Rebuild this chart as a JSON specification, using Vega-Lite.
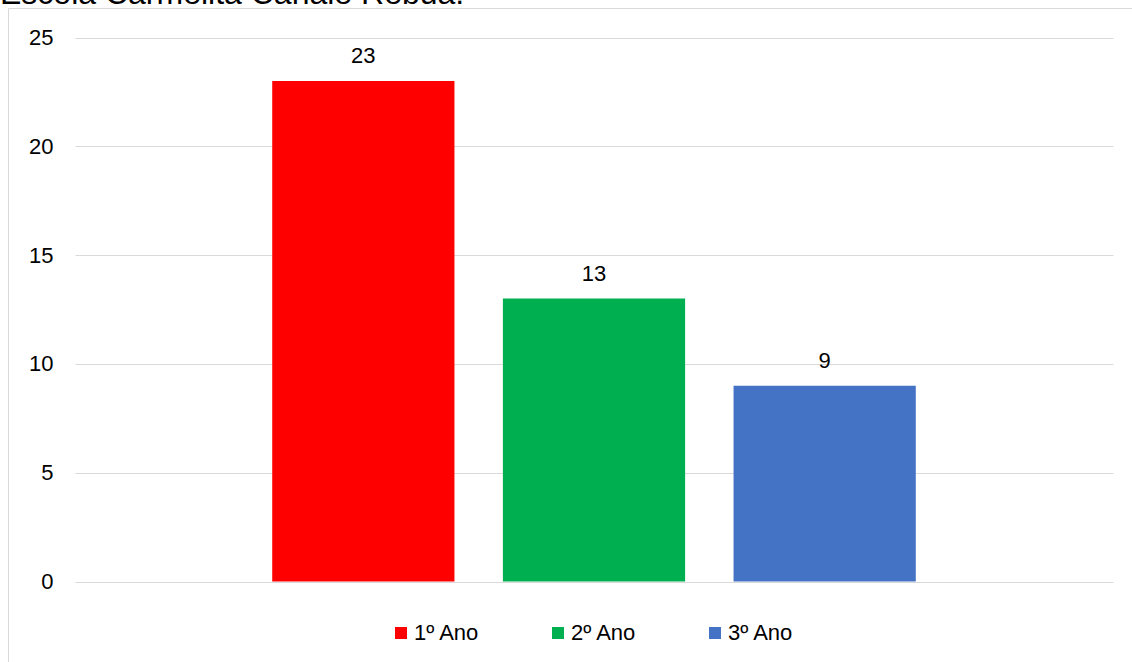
{
  "$schema": "https://vega.github.io/schema/vega-lite/v6.json",
  "autosize": {"type": "none"},
  "padding": {"left": 8, "top": 8, "right": 0, "bottom": 0},
  "width": 1124,
  "height": 654,
  "background": "white",
  "config": {
    "font": "Liberation Sans",
    "view": {"stroke": "#d9d9d9", "strokeWidth": 1}
  },
  "title": {
    "text": "Escola Carmelita Canale Rebua.",
    "anchor": "start",
    "frame": "group",
    "fontSize": 32,
    "fontWeight": "normal",
    "color": "#000000",
    "baseline": "alphabetic",
    "offset": 0,
    "dx": -8,
    "dy": 28
  },
  "data": {
    "values": [
      {"serie": "1º Ano", "valor": 23},
      {"serie": "2º Ano", "valor": 13},
      {"serie": "3º Ano", "valor": 9}
    ]
  },
  "encoding": {
    "x": {
      "field": "serie",
      "type": "nominal",
      "scale": {"range": [67, 1105], "paddingInner": 0.21, "paddingOuter": 0.855},
      "axis": null
    },
    "y": {
      "field": "valor",
      "type": "quantitative",
      "scale": {"domain": [0, 25], "range": [573.5, 29.5], "nice": false},
      "axis": {
        "title": null,
        "orient": "left",
        "offset": -67,
        "domain": false,
        "ticks": false,
        "labelPadding": 22,
        "labelFontSize": 22,
        "labelColor": "#000000",
        "values": [0, 5, 10, 15, 20, 25],
        "grid": true,
        "gridColor": "#d9d9d9",
        "gridWidth": 1
      }
    }
  },
  "layer": [
    {
      "mark": {"type": "bar"},
      "encoding": {
        "color": {
          "field": "serie",
          "type": "nominal",
          "scale": {"domain": ["1º Ano", "2º Ano", "3º Ano"], "range": ["#FF0000", "#00B050", "#4472C4"]},
          "legend": {
            "title": null,
            "orient": "none",
            "legendX": 382,
            "legendY": 614,
            "direction": "horizontal",
            "columns": 3,
            "symbolType": "square",
            "symbolSize": 144,
            "symbolStrokeWidth": 0,
            "labelFontSize": 22,
            "labelColor": "#000000",
            "labelOffset": 2,
            "columnPadding": 67,
            "padding": 0
          }
        }
      }
    },
    {
      "mark": {"type": "text", "dy": -18, "baseline": "alphabetic", "fontSize": 22, "color": "#000000"},
      "encoding": {"text": {"field": "valor", "type": "quantitative"}}
    }
  ]
}
